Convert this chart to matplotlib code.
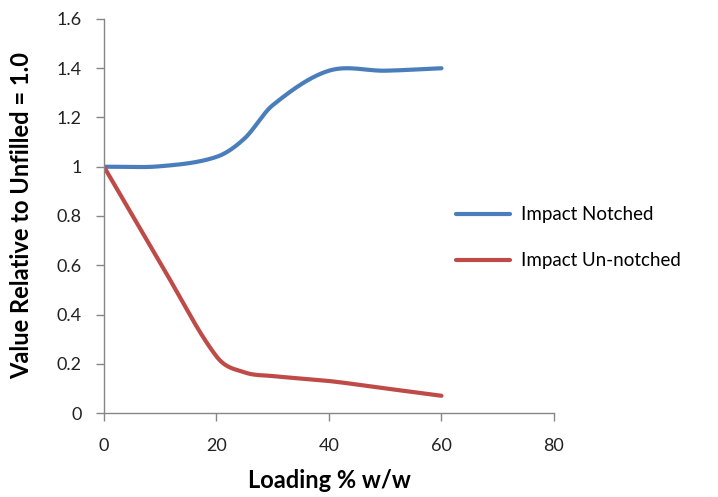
import numpy as np
import matplotlib
matplotlib.use("Agg")
import matplotlib.pyplot as plt

loading = [0, 10, 20, 25, 30, 40, 50, 60]
impact_notched = [1.0, 1.002, 1.04, 1.115, 1.25, 1.39, 1.39, 1.40]
impact_unnotched = [1.0, 0.61, 0.23, 0.165, 0.15, 0.13, 0.10, 0.07]

x_ticks = [0, 20, 40, 60, 80]
y_ticks = [0, 0.2, 0.4, 0.6, 0.8, 1.0, 1.2, 1.4, 1.6]
y_tick_labels = ["0", "0.2", "0.4", "0.6", "0.8", "1", "1.2", "1.4", "1.6"]


def smooth(xs, ys, n=60):
    """Cubic Hermite curve through the points, finite-difference slopes."""
    x = np.asarray(xs, float)
    y = np.asarray(ys, float)
    m = np.empty_like(y)
    m[1:-1] = (y[2:] - y[:-2]) / (x[2:] - x[:-2])
    m[0] = (y[1] - y[0]) / (x[1] - x[0])
    m[-1] = (y[-1] - y[-2]) / (x[-1] - x[-2])
    px, py = [], []
    for i in range(len(x) - 1):
        h = x[i + 1] - x[i]
        t = np.linspace(0, 1, n)
        if i > 0:
            t = t[1:]
        h00 = 2 * t**3 - 3 * t**2 + 1
        h10 = t**3 - 2 * t**2 + t
        h01 = -2 * t**3 + 3 * t**2
        h11 = t**3 - t**2
        px.append(x[i] + h * t)
        py.append(h00 * y[i] + h10 * h * m[i] + h01 * y[i + 1] + h11 * h * m[i + 1])
    return np.concatenate(px), np.concatenate(py)


plt.rcParams["font.family"] = ["Lato", "DejaVu Sans"]

fig = plt.figure(figsize=(7.18, 4.97), dpi=100)
ax = fig.add_axes([0.1448, 0.169, 0.6267, 0.7928])

blue = "#4a7ebb"
red = "#be4b48"
bx, by = smooth(loading, impact_notched)
rx, ry = smooth(loading, impact_unnotched)
ax.plot(bx, by, color=blue, lw=3.0, solid_capstyle="round", label="Impact Notched")
ax.plot(rx, ry, color=red, lw=3.0, solid_capstyle="round", label="Impact Un-notched")

ax.set_xlim(0, 80)
ax.set_ylim(0, 1.6)
ax.set_xticks(x_ticks)
ax.set_yticks(y_ticks)
ax.set_yticklabels(y_tick_labels)

for side in ("top", "right"):
    ax.spines[side].set_visible(False)
for side in ("left", "bottom"):
    ax.spines[side].set_color("#868686")
    ax.spines[side].set_linewidth(1.0)

ax.tick_params(axis="both", direction="out", length=6, width=1.0,
               color="#868686", labelsize=13, labelcolor="#222222")
ax.tick_params(axis="x", pad=12)
ax.tick_params(axis="y", pad=10)

ax.set_xlabel("Loading % w/w", fontsize=17, fontweight="bold", labelpad=11)
ax.set_ylabel("Value Relative to Unfilled = 1.0", fontsize=17,
              fontweight="bold", labelpad=17)

ax.legend(loc="center left", bbox_to_anchor=(0.745, 0.445), frameon=False,
          fontsize=13.5, handlelength=2.9, handletextpad=0.55, labelspacing=1.55)

fig.savefig("out.png", dpi=100)
